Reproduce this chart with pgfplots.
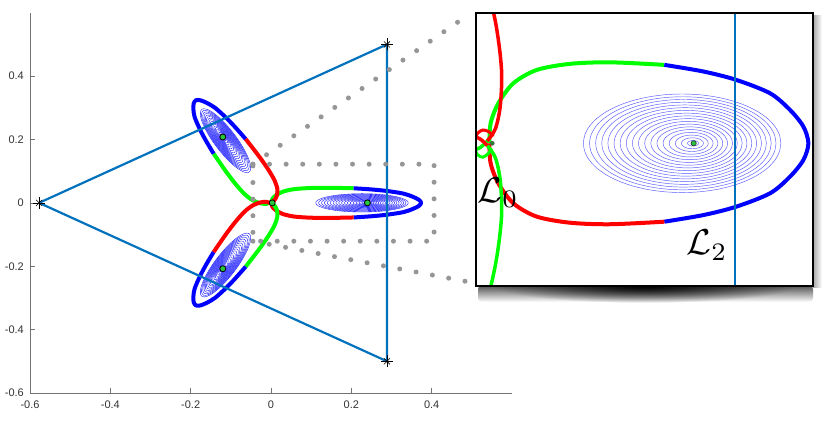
\documentclass[border=0pt]{standalone}
\usepackage[no-math]{fontspec}
\setmainfont{Liberation Sans}
\usepackage{pgfplots}
\pgfplotsset{compat=1.18}
\usepackage{pgfplotstable}
\usetikzlibrary{fadings}

\definecolor{mblue}{RGB}{0,114,189}
\definecolor{dotgray}{RGB}{150,150,150}
\definecolor{ctr}{RGB}{40,200,60}

\tikzfading[name=downfade, top color=transparent!0, bottom color=transparent!100]
\tikzfading[name=radfade, inner color=transparent!0, outer color=transparent!100]
\tikzfading[name=rightfade, left color=transparent!0, right color=transparent!100]

% one lobe (the one on the positive x axis); the other two are the same turned by 120 and 240 degrees
\pgfplotstableread{
x y
0.0016 0.0
0.0031 0.0118
0.0120 0.0235
0.0296 0.0353
0.0568 0.0431
0.0957 0.0467
0.1424 0.0476
0.2057 0.0461
}\lobeG
\pgfplotstableread{
x y
0.2057 0.0461
0.2513 0.0422
0.2894 0.0373
0.3291 0.0294
0.3524 0.0196
0.3680 0.0098
0.3738 0.0
0.3680 -0.0098
0.3524 -0.0196
0.3291 -0.0294
0.2894 -0.0373
0.2513 -0.0422
0.2057 -0.0461
}\lobeB
\pgfplotstableread{
x y
0.2057 -0.0461
0.1424 -0.0476
0.0957 -0.0467
0.0568 -0.0431
0.0296 -0.0353
0.0120 -0.0235
0.0031 -0.0118
0.0016 0.0
}\lobeR
% unit circle for the level rings
\pgfplotstableread{
u v
1 0
0.9848 0.1736
0.9397 0.3420
0.8660 0.5
0.7660 0.6428
0.6428 0.7660
0.5 0.8660
0.3420 0.9397
0.1736 0.9848
0 1
-0.1736 0.9848
-0.3420 0.9397
-0.5 0.8660
-0.6428 0.7660
-0.7660 0.6428
-0.8660 0.5
-0.9397 0.3420
-0.9848 0.1736
-1 0
-0.9848 -0.1736
-0.9397 -0.3420
-0.8660 -0.5
-0.7660 -0.6428
-0.6428 -0.7660
-0.5 -0.8660
-0.3420 -0.9397
-0.1736 -0.9848
0 -1
0.1736 -0.9848
0.3420 -0.9397
0.5 -0.8660
0.6428 -0.7660
0.7660 -0.6428
0.8660 -0.5
0.9397 -0.3420
0.9848 -0.1736
1 0
}\ucirc

\pgfplotsset{
  table/rotB/.style={x expr={-0.5*\thisrow{x}-0.866*\thisrow{y}}, y expr={0.866*\thisrow{x}-0.5*\thisrow{y}}},
  table/rotC/.style={x expr={-0.5*\thisrow{x}+0.866*\thisrow{y}}, y expr={-0.866*\thisrow{x}-0.5*\thisrow{y}}},
  lobe/.style={smooth, line width=4pt, line join=round},
  ring/.style={smooth, blue, line width=0.35pt},
  dotline/.style={dotgray, line width=5pt, line cap=round, dash pattern=on 0pt off 16.6pt},
  ctrmark/.style={only marks, mark=*, mark size=3pt, mark options={fill=ctr, draw=black, line width=0.8pt}},
}

\begin{document}
\begin{tikzpicture}
\path[use as bounding box] (0,0) rectangle (831pt,423pt);

% drop shadow of the zoom box
\fill[black, fill opacity=0.7, path fading=downfade, rounded corners=4pt] (478pt,121pt) rectangle (813pt,138pt);
\fill[black, path fading=radfade] (645pt,137pt) ellipse [x radius=150pt, y radius=17pt];
\fill[black, fill opacity=0.35, path fading=rightfade] (813pt,135pt) rectangle (822pt,408pt);

\begin{axis}[
  at={(30pt,30pt)}, anchor=south west,
  scale only axis, width=482pt, height=380.3pt,
  xmin=-0.6, xmax=0.6, ymin=-0.6, ymax=0.6,
  axis x line*=bottom, axis y line*=left,
  axis line style={draw=black!55, line width=0.6pt},
  xtick={-0.6,-0.4,-0.2,0,0.2,0.4},
  xticklabels={-0.6,-0.4,-0.2,0,0.2,0.4},
  ytick={-0.6,-0.4,-0.2,0,0.2,0.4},
  yticklabels={-0.6,-0.4,-0.2,0,0.2,0.4},
  tick align=inside, major tick length=4.5pt,
  tick style={draw=black!55, line width=0.6pt},
  tick label style={font=\fontsize{11}{13}\selectfont, text=black!80, inner sep=1pt},
  xticklabel style={yshift=-7pt},
  yticklabel style={xshift=-5pt},
]
% level rings
\pgfplotsinvokeforeach{1,...,18}{
  \addplot[ring] table[x expr={0.24-0.00075*#1+0.0064*#1*\thisrow{u}}, y expr={0.00161*#1*\thisrow{v}}] {\ucirc};
  \addplot[ring] table[x expr={-0.5*(0.24-0.00075*#1+0.0064*#1*\thisrow{u})-0.866*0.00161*#1*\thisrow{v}},
                       y expr={0.866*(0.24-0.00075*#1+0.0064*#1*\thisrow{u})-0.5*0.00161*#1*\thisrow{v}}] {\ucirc};
  \addplot[ring] table[x expr={-0.5*(0.24-0.00075*#1+0.0064*#1*\thisrow{u})+0.866*0.00161*#1*\thisrow{v}},
                       y expr={-0.866*(0.24-0.00075*#1+0.0064*#1*\thisrow{u})-0.5*0.00161*#1*\thisrow{v}}] {\ucirc};
}
% lobes
\addplot[lobe, green] table {\lobeG};
\addplot[lobe, blue] table {\lobeB};
\addplot[lobe, red] table {\lobeR};
\addplot[lobe, green] table[rotB] {\lobeG};
\addplot[lobe, blue] table[rotB] {\lobeB};
\addplot[lobe, red] table[rotB] {\lobeR};
\addplot[lobe, green] table[rotC] {\lobeG};
\addplot[lobe, blue] table[rotC] {\lobeB};
\addplot[lobe, red] table[rotC] {\lobeR};
\addplot[ctrmark] coordinates {(0.24,0) (-0.12,0.2078) (-0.12,-0.2078) (0.003,0)};
% triangle
\addplot[mblue, line width=2.2pt] coordinates {(-0.5774,0) (0.2887,0.5) (0.2887,-0.5) (-0.5774,0)};
\addplot[only marks, mark=+, mark size=6pt, black, mark options={line width=0.6pt}] coordinates {(-0.5774,0) (0.2887,0.5) (0.2887,-0.5)};
\addplot[only marks, mark=x, mark size=4.3pt, black, mark options={line width=0.6pt}] coordinates {(-0.5774,0) (0.2887,0.5) (0.2887,-0.5)};
% zoom frame
\addplot[dotline] coordinates {(-0.045,0.122) (0.406,0.122) (0.406,-0.121) (-0.045,-0.121) (-0.045,0.122)};
\addplot[dotline] coordinates {(-0.045,0.122) (0.485,0.588)};
\addplot[dotline] coordinates {(-0.045,-0.121) (0.490,-0.249)};
\end{axis}

% zoomed view
\begin{axis}[
  at={(476pt,137pt)}, anchor=south west,
  scale only axis, width=337pt, height=273pt,
  xmin=-0.014, xmax=0.3792, ymin=-0.0839, ymax=0.0766,
  xtick=\empty, ytick=\empty,
  axis line style={line width=2.6pt, black},
  axis background/.style={fill=white},
  axis on top,
]
\pgfplotsinvokeforeach{1,...,18}{
  \addplot[smooth, blue!65, line width=0.45pt] table[x expr={0.24-0.00075*#1+0.0064*#1*\thisrow{u}}, y expr={0.00161*#1*\thisrow{v}}] {\ucirc};
}
\addplot[lobe, green] table {\lobeG};
\addplot[lobe, blue] table {\lobeB};
\addplot[lobe, red] table {\lobeR};
\addplot[lobe, green, line width=3.5pt] table[rotB] {\lobeG};
\addplot[lobe, red, line width=3.5pt] table[rotB] {\lobeR};
\addplot[lobe, green, line width=3.5pt] table[rotC] {\lobeG};
\addplot[lobe, red, line width=3.5pt] table[rotC] {\lobeR};
% small loop at the saddle
\addplot[smooth, red, line width=3pt] coordinates {(0.006,0.004) (0.001,0.0068) (-0.006,0.0078) (-0.012,0.006) (-0.016,0.002)};
\addplot[smooth, green, line width=3pt] coordinates {(-0.016,-0.003) (-0.012,-0.0068) (-0.006,-0.0082) (0.000,-0.0062) (0.004,-0.003)};
\addplot[mblue, line width=2pt] coordinates {(0.2887,-0.0839) (0.2887,0.0766)};
\addplot[only marks, mark=*, mark size=2.6pt, mark options={fill=ctr, draw=black!80, line width=0.7pt}] coordinates {(0.24,0)};
\addplot[only marks, mark=*, mark size=2pt, mark options={fill=ctr!70!black, draw=black!70, line width=0.5pt}] coordinates {(0.005,0)};
\node[scale=3.6] at (axis cs:0.0117,-0.0292) {$\mathcal{L}_0$};
\node[scale=3.6] at (axis cs:0.2555,-0.0598) {$\mathcal{L}_2$};
\end{axis}
\end{tikzpicture}
\end{document}
